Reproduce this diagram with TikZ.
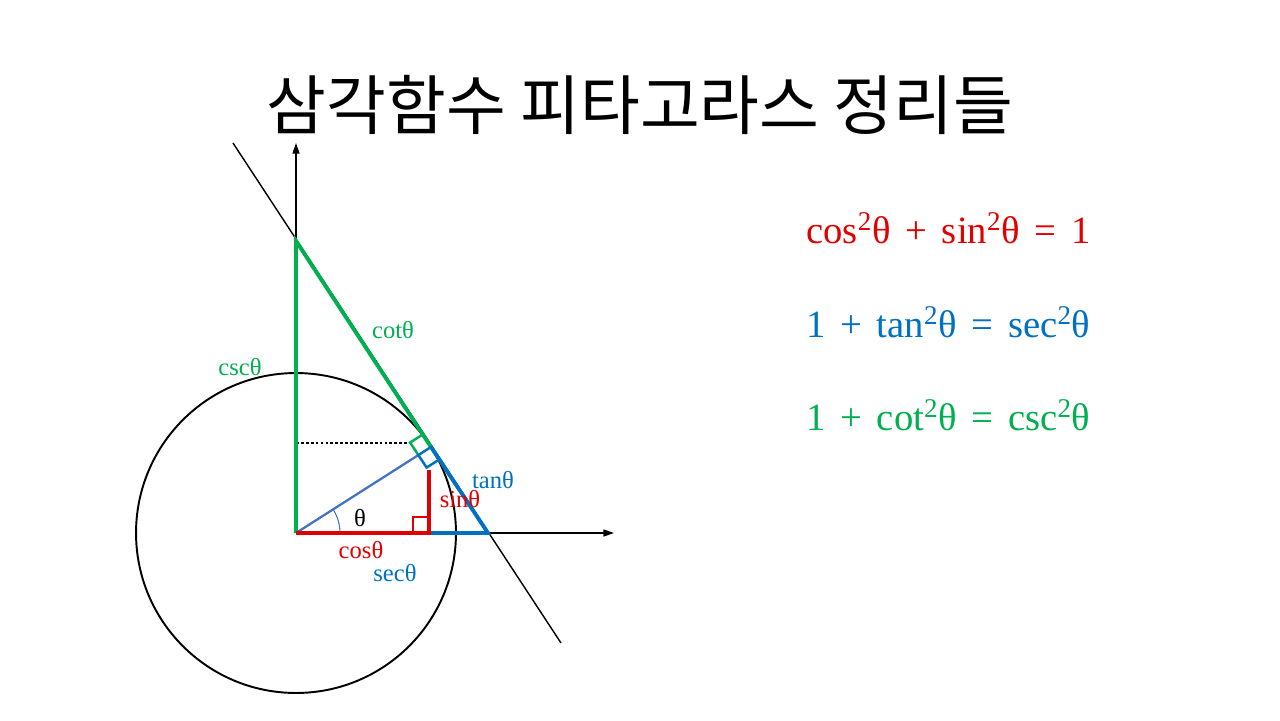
\documentclass[tikz,border=0pt]{standalone}
\usepackage{fontspec}
\setmainfont{Liberation Serif}
\newfontfamily\krfont{Noto Sans CJK KR}
\usepackage{tikz}
\usetikzlibrary{positioning}
\usetikzlibrary{calc}
\usetikzlibrary{arrows.meta}
\definecolor{myred}{RGB}{224,0,0}
\definecolor{myblue}{RGB}{0,112,192}
\definecolor{mygreen}{RGB}{0,176,80}
\definecolor{myradius}{RGB}{68,114,196}
\newcommand{\eqgap}{\hspace{0.38em}}
\tikzset{
    edgen/.style = {-,line width=0.8pt,black},
    edgec/.style = {-,line width=1.1pt,black},
    edger/.style = {-,line width=2.2pt,myred},
    edgeb/.style = {-,line width=2.2pt,myblue},
    edgeg/.style = {-,line width=2.2pt,mygreen},
    edgebl/.style = {-,line width=1.3pt,myradius},
    edgedd/.style = {-,line width=0.6pt,black,dash pattern=on 1.6pt off 1.2pt}, % sin level
    axisn/.style = {-{Triangle[length=6pt,width=4pt]},line width=0.7pt,black},
    boxr/.style = {line width=1.4pt,myred},
    boxb/.style = {line width=1.4pt,myblue},
    boxg/.style = {line width=1.4pt,mygreen},
    lbl/.style = {inner sep=0pt,font=\fontsize{14}{16}\selectfont},
    lblr/.style = {lbl,text=myred},
    lblb/.style = {lbl,text=myblue},
    lblg/.style = {lbl,text=mygreen},
    eqn/.style = {anchor=west,inner sep=0pt,font=\fontsize{22}{26}\selectfont}
}
\begin{document}
\begin{tikzpicture}[x=0.02cm,y=-0.02cm]
  \useasboundingbox (0,0) rectangle (1280,720);
  % points of the unit circle picture
  \coordinate (O) at (296,533);
  \coordinate (P) at (431,447);
  \coordinate (Q) at (429,533);
  \coordinate (Qt) at (429,470);
  \coordinate (S) at (488,533);
  \coordinate (C) at (296,241);
  \coordinate (T1) at (233,143);
  \coordinate (T2) at (561,643);
  \coordinate (X) at (614,533);
  \coordinate (Y) at (296,143);
  \coordinate (Dl) at (296,443);
  \coordinate (Dr) at (409,443);
  \coordinate (Pa) at ($(P)!0.3cm!(O)$);
  \coordinate (Pb) at ($(P)!0.3cm!(S)$);
  \coordinate (Pc) at ($(P)!0.3cm!(C)$);
  \coordinate (Qa) at ($(Q)!0.32cm!(O)$);
  \coordinate (Qb) at ($(Q)!0.32cm!(Qt)$);

  \node[font=\krfont\fontsize{37}{44}\selectfont] (title) at (640,105) {삼각함수 피타고라스 정리들};

  \draw[edgec] (O) circle[radius=3.2cm];
  \draw[axisn] (O) -- (X);
  \draw[axisn] (O) -- (Y);
  \draw[edgen] (T1) -- (T2);
  \draw[edgedd] (Dl) -- (Dr);
  \draw[edgebl] (O) -- (Pa);
  \draw[myradius,line width=0.6pt] ($(O)+(44,0)$) arc[start angle=0,end angle=32.5,radius=0.88cm];
  \draw[edgeg] (O) -- (C) -- (P);
  \draw[edgeb] (P) -- (S) -- (Q);
  \draw[edger] (O) -- (Q) -- (Qt);
  \draw[boxg] (P) -- (Pc) -- ($(Pc)+(Pa)-(P)$) -- (Pa);
  \draw[boxb] (P) -- (Pb) -- ($(Pb)+(Pa)-(P)$) -- (Pa) -- cycle;
  \draw[boxr] (Q) -- (Qa) -- ($(Qa)+(Qb)-(Q)$) -- (Qb) -- cycle;

  % labels
  \node[lbl] (th) at (360,518) {θ};
  \node[lblr] (cos) at (361,550) {cosθ};
  \node[lblb] (sec) at (395,573) {secθ};
  \node[lblr] (sin) at (460,499) {sinθ};
  \node[lblb] (tan) at (493,480) {tanθ};
  \node[lblg] (cot) at (393,330) {cotθ};
  \node[lblg] (csc) at (240,367) {cscθ};

  % identities
  \node[eqn,text=myred] (eq1) at (806,228) {cos\textsuperscript{2}θ\eqgap+\eqgap sin\textsuperscript{2}θ\eqgap=\eqgap 1};
  \node[eqn,text=myblue] (eq2) at (806,322) {1\eqgap+\eqgap tan\textsuperscript{2}θ\eqgap=\eqgap sec\textsuperscript{2}θ};
  \node[eqn,text=mygreen] (eq3) at (806,415) {1\eqgap+\eqgap cot\textsuperscript{2}θ\eqgap=\eqgap csc\textsuperscript{2}θ};
\end{tikzpicture}
\end{document}
